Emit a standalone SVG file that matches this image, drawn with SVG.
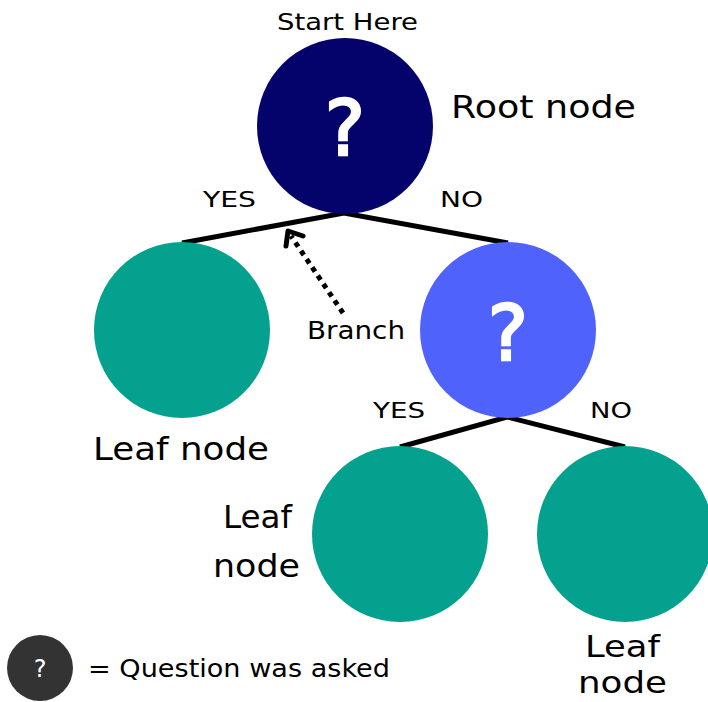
<svg xmlns="http://www.w3.org/2000/svg" width="708" height="702" viewBox="0 0 708 702">
<style>
text{font-family:"DejaVu Sans","Liberation Sans",sans-serif;fill:#000}
.leaf{fill:#03A18E}
.q{fill:#fff;text-anchor:middle}
.big{font-size:76px;stroke:#fff;stroke-width:2.5px}
.br{stroke:#000;stroke-width:5;fill:none;stroke-linecap:butt}
</style>
<rect width="708" height="702" fill="#fff"/>
<g id="connectors">
<polyline class="br" points="182,243 344,213 508,243"/>
<polyline class="br" points="400,447 507,417 625,447"/>
<line x1="343" y1="313" x2="291" y2="236" stroke="#000" stroke-width="5" stroke-dasharray="5,5"/>
<polyline points="286,246 288,231 303,236" fill="none" stroke="#000" stroke-width="5" stroke-linejoin="round" stroke-linecap="round"/>
</g>
<g id="root">
<circle cx="345" cy="126" r="88" fill="#03036B"/>
<text class="q big" x="345" y="155">?</text>
<text x="277" y="30" font-size="23" textLength="141" lengthAdjust="spacingAndGlyphs">Start Here</text>
<text x="451" y="118" font-size="32" textLength="185" lengthAdjust="spacingAndGlyphs">Root node</text>
</g>
<text x="203" y="207" font-size="22" textLength="53" lengthAdjust="spacingAndGlyphs">YES</text>
<text x="440" y="207" font-size="22" textLength="43" lengthAdjust="spacingAndGlyphs">NO</text>
<text x="307" y="339" font-size="24" textLength="98" lengthAdjust="spacingAndGlyphs">Branch</text>
<g id="leaf1">
<circle class="leaf" cx="182" cy="330" r="88"/>
<text x="93" y="460" font-size="32" textLength="176" lengthAdjust="spacingAndGlyphs">Leaf node</text>
</g>
<g id="decision">
<circle cx="508" cy="330" r="88" fill="#4F62FB"/>
<text class="q big" x="508" y="360">?</text>
</g>
<text x="373" y="418" font-size="22" textLength="52" lengthAdjust="spacingAndGlyphs">YES</text>
<text x="590" y="418" font-size="22" textLength="42" lengthAdjust="spacingAndGlyphs">NO</text>
<g id="leaf2">
<circle class="leaf" cx="400" cy="534" r="88"/>
<text x="223" y="528" font-size="32" textLength="69" lengthAdjust="spacingAndGlyphs">Leaf</text>
<text x="213" y="577" font-size="32" textLength="87" lengthAdjust="spacingAndGlyphs">node</text>
</g>
<g id="leaf3">
<circle class="leaf" cx="625" cy="534" r="88"/>
<text x="585" y="657" font-size="30" textLength="75" lengthAdjust="spacingAndGlyphs">Leaf</text>
<text x="578" y="693" font-size="30" textLength="89" lengthAdjust="spacingAndGlyphs">node</text>
</g>
<g id="legend">
<circle cx="40" cy="668" r="33" fill="#333"/>
<text class="q" x="40" y="677" font-size="24">?</text>
<text x="88" y="677" font-size="25" textLength="302" lengthAdjust="spacingAndGlyphs">= Question was asked</text>
</g>
</svg>
